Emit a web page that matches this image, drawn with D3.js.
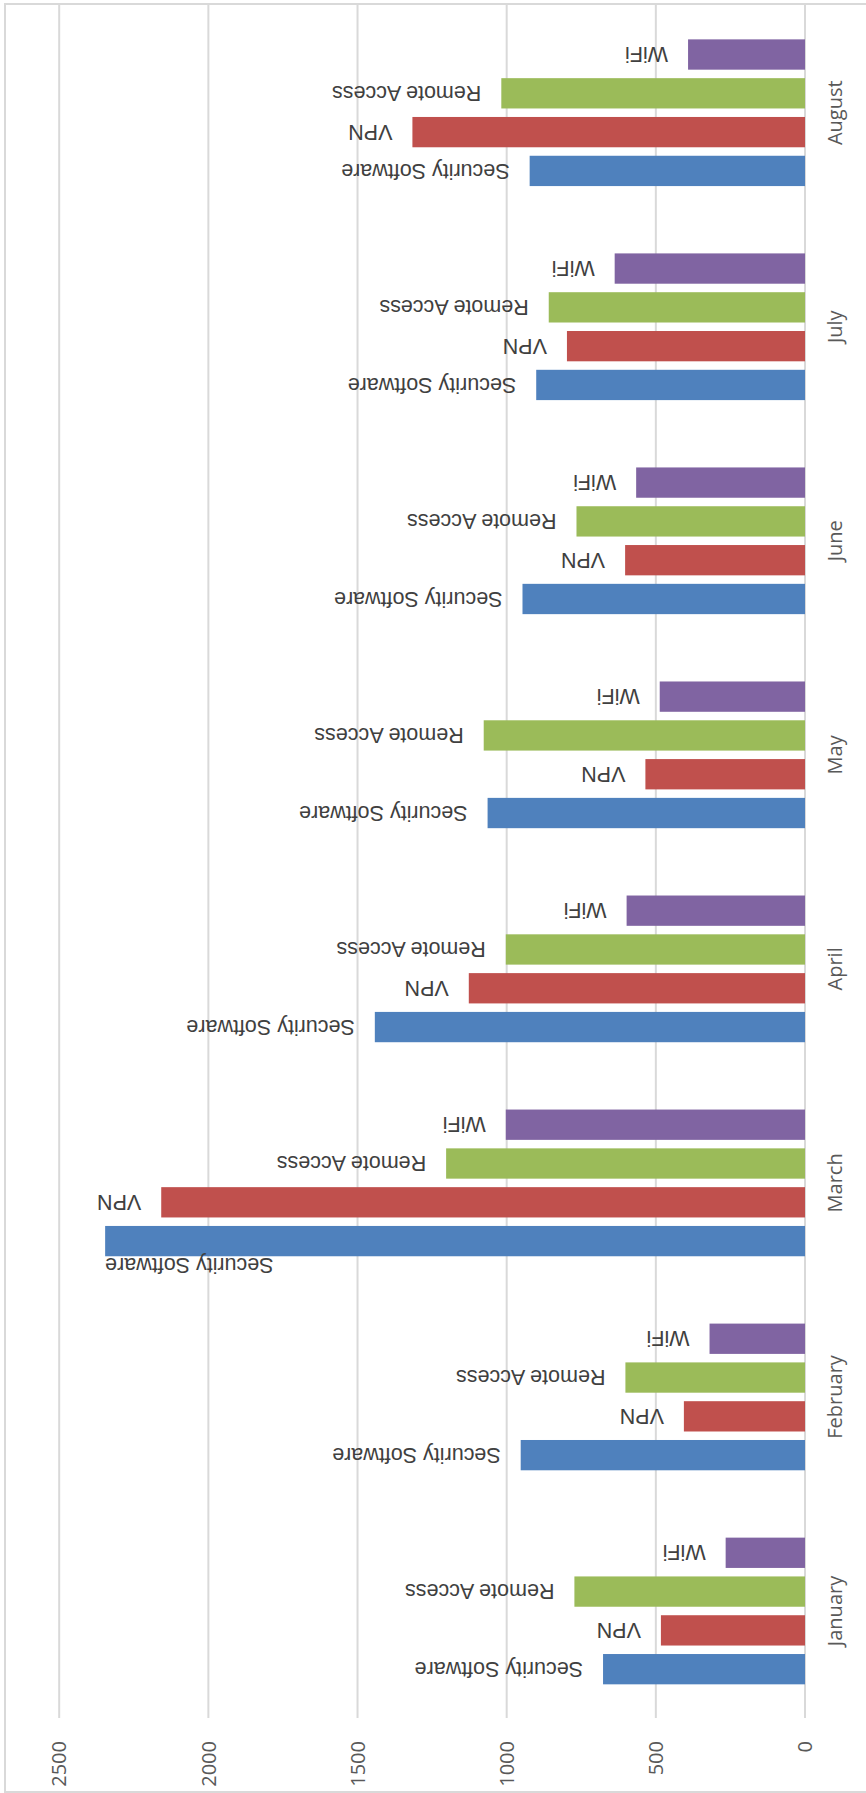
<!DOCTYPE html>
<html>
<head>
<meta charset="utf-8">
<script src="https://cdn.jsdelivr.net/npm/d3@7"></script>
<style>
  html, body { margin: 0; padding: 0; background: #ffffff; }
  svg { display: block; }
</style>
</head>
<body>
<svg id="chart" width="866" height="1793"></svg>
<script>
// Monthly incident counts by category
const months = ["January", "February", "March", "April", "May", "June", "July", "August"];
const seriesNames = ["Security Software", "VPN", "Remote Access", "WiFi"];
const securitySoftware = [677, 953, 2346, 1442, 1064, 947, 901, 923];
const vpn = [483, 406, 2158, 1127, 535, 603, 798, 1316];
const remoteAccess = [773, 602, 1203, 1003, 1077, 766, 859, 1018];
const wifi = [266, 320, 1003, 598, 487, 566, 638, 392];
const valueTicks = [0, 500, 1000, 1500, 2000, 2500];
const seriesColors = ["#4F81BD", "#C0504D", "#9BBB59", "#8064A2"];

const seriesValues = [securitySoftware, vpn, remoteAccess, wifi];
const rows = months.map((m, i) => ({
  month: m,
  values: seriesNames.map((s, k) => ({ series: s, value: seriesValues[k][i], color: seriesColors[k] }))
}));

const svg = d3.select("#chart");

// Layout: the chart is turned a quarter turn, so months run bottom-to-top
// and values grow from right to left.
const plot = { left: 59.2, right: 805, top: 5.7, bottom: 1718 };

const x = d3.scaleLinear().domain([0, 2500]).range([plot.right, plot.left]);
const yMonth = d3.scaleBand().domain(months).range([plot.bottom, plot.top]).padding(0);
const groupHalf = 73.35;
const ySeries = d3.scaleBand().domain(seriesNames)
  .range([groupHalf, -groupHalf]).paddingInner(0.219).paddingOuter(0);

// chart frame (visible edges)
svg.append("path")
  .attr("d", `M866,4 L5,4 L5,1792 L866,1792`)
  .attr("fill", "none").attr("stroke", "#D9D9D9").attr("stroke-width", 2);

// gridlines
svg.append("g").selectAll("line").data(valueTicks).join("line")
  .attr("x1", d => x(d)).attr("x2", d => x(d))
  .attr("y1", 4).attr("y2", plot.bottom)
  .attr("stroke", "#D9D9D9").attr("stroke-width", 2);

// value axis labels (rotated)
const tickFont = 20;
svg.append("g").selectAll("text").data(valueTicks).join("text")
  .attr("transform", d => `translate(${x(d) + tickFont * 0.36},1741) rotate(-90)`)
  .attr("text-anchor", "end")
  .attr("font-family", "'Open Sans', sans-serif")
  .attr("font-size", tickFont)
  .attr("fill", "#595959")
  .text(d => d);

// month labels (rotated)
svg.append("g").selectAll("text").data(months).join("text")
  .attr("transform", d => `translate(842,${yMonth(d) + yMonth.bandwidth() / 2}) rotate(-90)`)
  .attr("text-anchor", "middle")
  .attr("font-family", "'Open Sans', sans-serif")
  .attr("font-size", tickFont)
  .attr("fill", "#595959")
  .text(d => d);

// bars
const groups = svg.append("g").selectAll("g").data(rows).join("g")
  .attr("transform", d => `translate(0,${yMonth(d.month) + yMonth.bandwidth() / 2})`);

groups.selectAll("rect").data(d => d.values).join("rect")
  .attr("x", d => x(d.value))
  .attr("width", d => x(0) - x(d.value))
  .attr("y", d => ySeries(d.series))
  .attr("height", ySeries.bandwidth())
  .attr("fill", d => d.color);

// data labels: upside-down series names at the bar ends
const labelFont = 21.5;
const gap = 20;
groups.each(function (row) {
  const g = d3.select(this);
  row.values.forEach(d => {
    const barEnd = x(d.value);
    const top = ySeries(d.series);
    const cy = top + ySeries.bandwidth() / 2;
    const t = g.append("text")
      .attr("font-family", "'Liberation Sans', Arial, sans-serif")
      .attr("font-size", labelFont)
      .attr("fill", "#404040")
      .attr("dy", "0.34em")
      .text(d.series);
    const w = t.node().getComputedTextLength();
    if (barEnd - gap - w >= plot.left) {
      const ax = barEnd - gap;
      t.attr("x", ax).attr("y", cy)
        .attr("text-anchor", "start")
        .attr("transform", `rotate(180,${ax},${cy})`);
    } else {
      // no room beyond the bar: tuck the label alongside it
      const ly = top + ySeries.bandwidth() + 9.3;
      t.attr("x", barEnd).attr("y", ly)
        .attr("text-anchor", "end")
        .attr("transform", `rotate(180,${barEnd},${ly})`);
    }
  });
});
</script>
</body>
</html>
